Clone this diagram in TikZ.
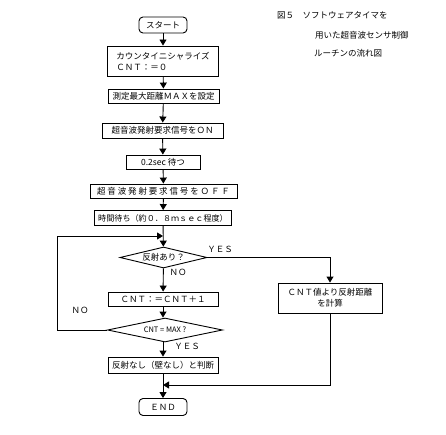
\documentclass[tikz,border=0pt]{standalone}
\usepackage{fontspec}
\setmainfont{Noto Sans CJK JP}
\usetikzlibrary{arrows.meta,
                shapes.geometric
                }
\newcommand{\fs}{\fontsize{8.5pt}{11pt}\selectfont}

\tikzset{
  base/.style={draw, line width=0.9pt, inner sep=1pt, font=\fs},
  proc/.style={base, rectangle, minimum height=14},
  term/.style={base, rectangle, rounded corners=4pt, minimum width=48, minimum height=16},
  decision/.style={base, diamond, inner sep=0pt},
  flow/.style={line width=0.9pt, -{Triangle[width=7pt,length=6pt]}},
  plain/.style={line width=0.9pt},
  lbl/.style={font=\fs, inner sep=0pt}
}

\begin{document}
\begin{tikzpicture}[x=1pt, y=-1pt]
    \useasboundingbox (0,0) rectangle (446,435);

    %title
    \node[lbl, anchor=west] (title1) at (277,15) {図５\quad ソフトウェアタイマを};
    \node[lbl, anchor=west] (title2) at (315,35) {用いた超音波センサ制御};
    \node[lbl, anchor=west] (title3) at (314,53) {ルーチンの流れ図};

    %main column
    \node[term] (start) at (163,25) {スタート};
    \node[proc, minimum width=111, minimum height=30, align=left] (init) at (163,61)
        {カウンタイニシャライズ\\ＣＮＴ：＝０};
    \node[proc, minimum width=111] (maxset) at (163.5,96) {測定最大距離ＭＡＸを設定};
    \node[proc, minimum width=121, minimum height=15] (on) at (162.5,130.5) {超音波発射要求信号をＯＮ};
    \node[proc, minimum width=74] (wait) at (163,162) {0.2sec 待つ};
    \node[proc, minimum width=147] (off) at (163.5,191)
        {\addfontfeature{LetterSpace=22}超音波発射要求信号をＯＦＦ};
    \node[proc, minimum width=137, minimum height=15] (delay) at (163,218)
        {\fontsize{8.1pt}{10pt}\selectfont 時間待ち（約０．８ｍｓｅｃ程度）};
    \coordinate (merge1) at (163,236);
    \node[decision, aspect=4.2, minimum width=87, minimum height=21] (echo) at (163.5,257.5) {反射あり？};
    \node[proc, minimum width=110] (inc) at (163,299) {ＣＮＴ：＝ＣＮＴ＋１};
    \node[decision, aspect=4.8, minimum width=115, minimum height=24] (full) at (165,330)
        {\fontsize{7.5pt}{9pt}\selectfont CNT = MAX ?};
    \node[proc, minimum width=110, minimum height=16] (none) at (163,365) {反射なし（壁なし）と判断};
    \coordinate (merge2) at (163,385);
    \node[term, minimum height=17] (stop) at (163,407) {ＥＮＤ};

    %right branch
    \node[proc, minimum width=104, minimum height=30, align=center] (calc) at (330,298)
        {ＣＮＴ値より反射距離\\を計算};

    %connectors
    \draw[flow] (start) -- (init);
    \draw[flow] (init) -- (maxset);
    \draw[flow] (maxset) -- (on);
    \draw[flow] (on) -- (wait);
    \draw[flow] (wait) -- (off);
    \draw[flow] (off) -- (delay);
    \draw[flow] (delay) -- (echo);
    \draw[flow] (echo) -- (inc);
    \draw[flow] (inc) -- (full.north -| inc.south);
    \draw[flow] (full.south -| none.north) -- (none);
    \draw[plain] (none) -- (merge2);
    \draw[flow] (merge2) -- (stop);
    \draw[flow] (full.west) -- ++(-50,0) |- (merge1);
    \draw[flow] (echo.east) -| (calc.north);
    \draw[flow] (calc.south) |- (merge2);

    %branch labels
    \node[lbl] (yes1) at (220,249) {ＹＥＳ};
    \node[lbl] (no1) at (178,272) {ＮＯ};
    \node[lbl] (no2) at (80,310) {ＮＯ};
    \node[lbl] (yes2) at (187,346) {ＹＥＳ};
\end{tikzpicture}
\end{document}
